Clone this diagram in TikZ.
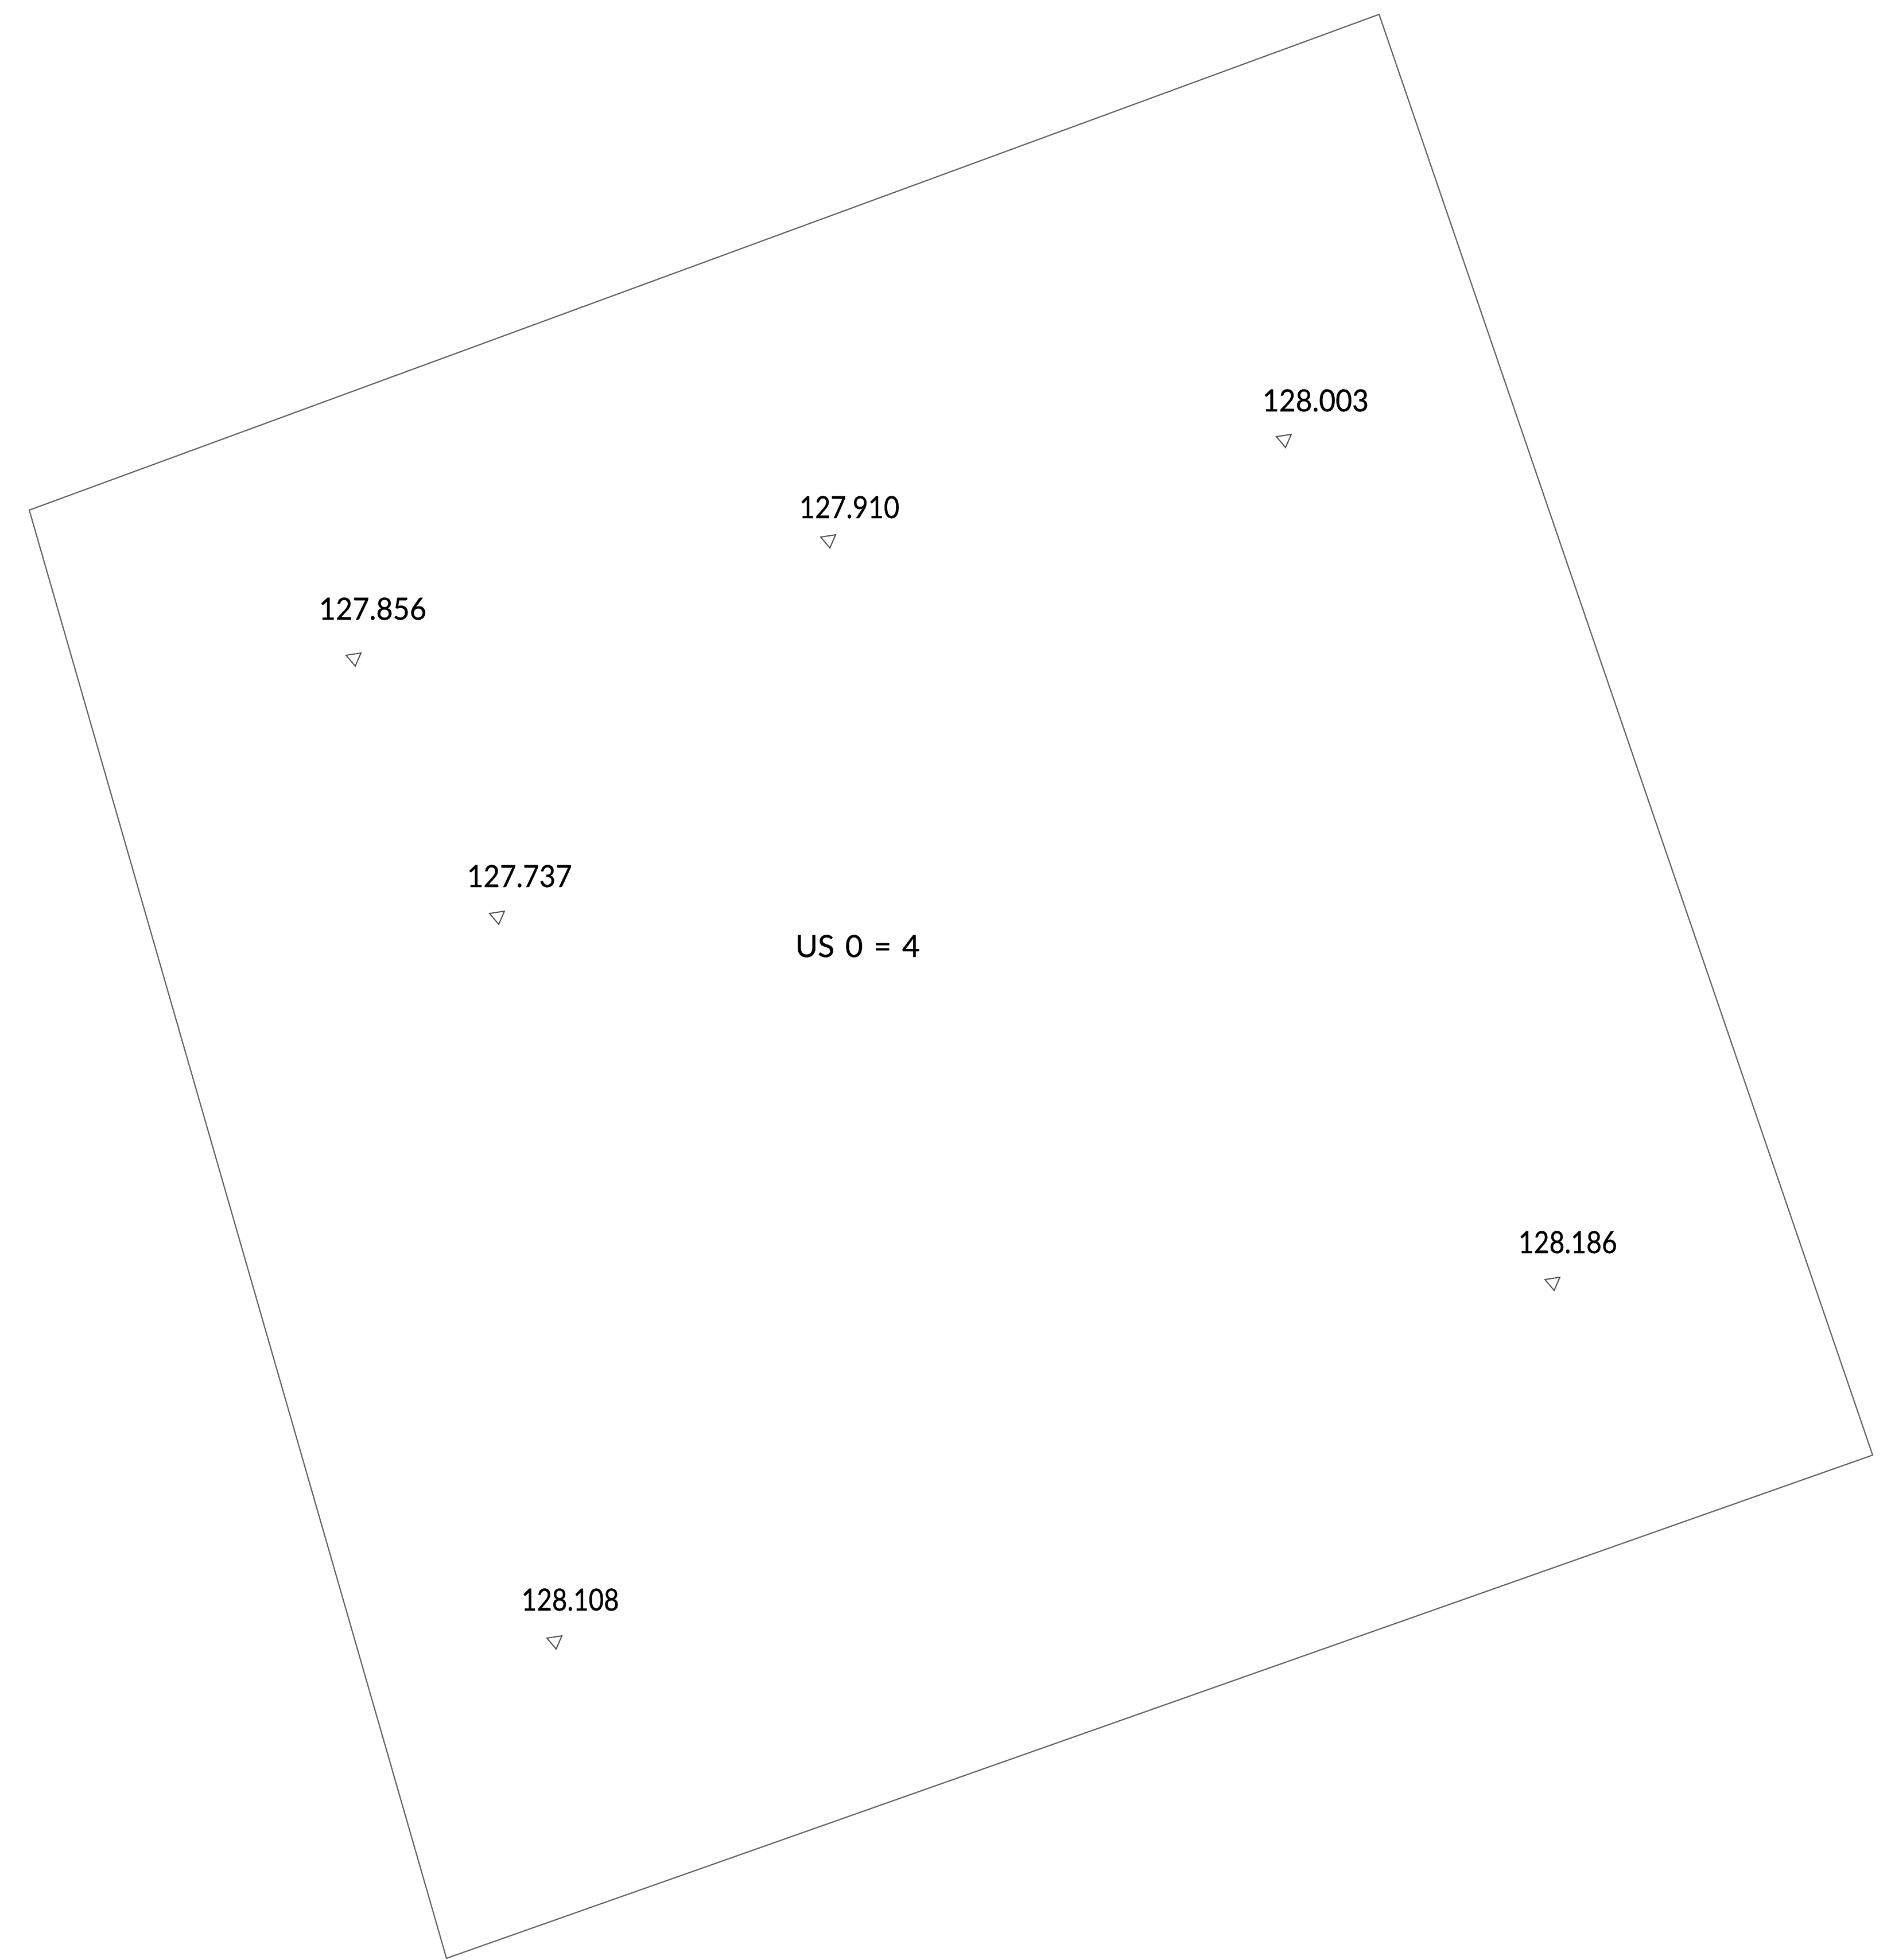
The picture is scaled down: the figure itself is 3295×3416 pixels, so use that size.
\documentclass[tikz,border=0pt]{standalone}
\usepackage{graphicx}
\usepackage{fontspec}
\setmainfont[FakeBold=0.5]{Lato}
\newcommand{\squeezed}[2]{\scalebox{#1}[1]{#2}}
\tikzset{
  plan/.style={draw=black!62,line width=0.5pt,line join=miter},
  mark tri/.style={draw=black!70,line width=0.45pt},
  lev/.style={inner sep=0pt,anchor=base west,font=\fontsize{12.8}{15}\selectfont,text=black}
}
\begin{document}
\begin{tikzpicture}[x=0.24pt,y=-0.24pt]
\useasboundingbox (0,0) rectangle (3295,3416);
\coordinate (A) at (2403,25);
\coordinate (B) at (51,889);
\coordinate (C) at (778,3413);
\coordinate (D) at (3263,2536);
\draw[plan] (A) -- (B) -- (C) -- (D) -- cycle;
\foreach \x/\y in {603/1142,2224/761,1430/936,853/1592,2692/2230,953/2855}{
  \draw[mark tri] (\x,\y) -- ++(26,-4) -- ++(-10,23) -- cycle;
}
\node[lev] (t1) at (555,1080) {\squeezed{0.945}{127.856}};
\node[lev] (t2) at (2199,717) {\squeezed{0.934}{128.003}};
\node[lev] (t4) at (1392,903) {\squeezed{0.88}{127.910}};
\node[lev] (t5) at (813,1546) {\squeezed{0.923}{127.737}};
\node[lev] (t6) at (2645,2184) {\squeezed{0.868}{128.186}};
\node[lev] (t7) at (908,2807) {\squeezed{0.857}{128.108}};
\node[lev] (t3) at (1385,1668) {\spaceskip=0.35em US 0 = 4};
\end{tikzpicture}
\end{document}
